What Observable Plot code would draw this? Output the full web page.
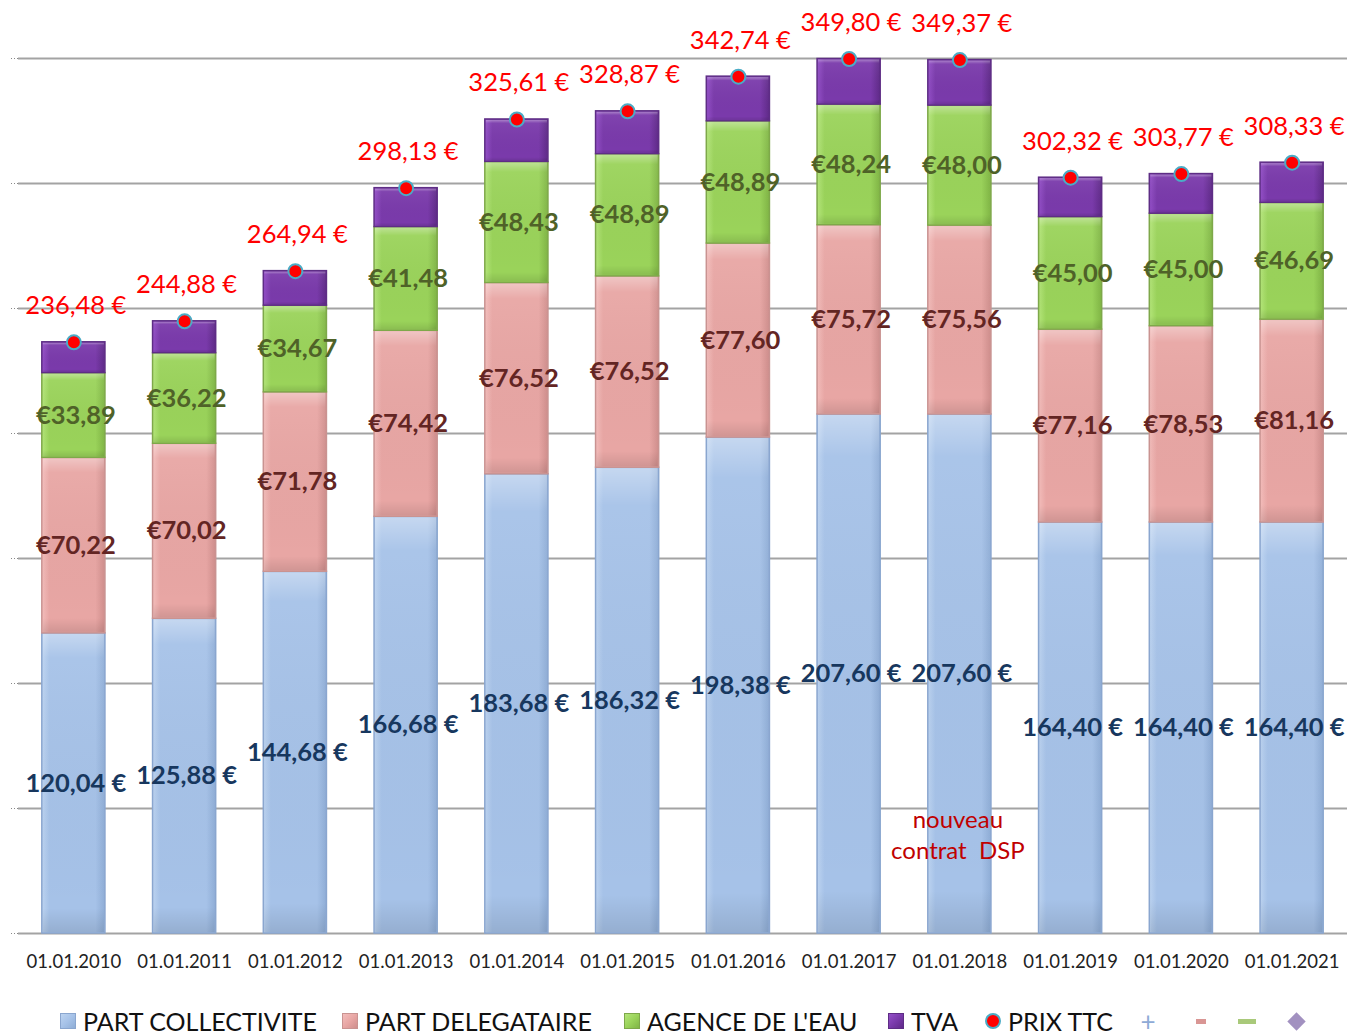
<!DOCTYPE html>
<html>
<head>
<meta charset="utf-8">
<script src="https://cdn.jsdelivr.net/npm/d3@7"></script>
<script src="https://cdn.jsdelivr.net/npm/@observablehq/plot@0.6"></script>
<style>
  body { margin: 0; background: #fff; font-family: Lato, "Open Sans", sans-serif; }
  #chart { width: 1363px; height: 985px; }
  .legend { display: flex; align-items: center; height: 40px; margin-top: 16px; padding-left: 60px; font-size: 25px; color: #111; }
  .legend .item { display: flex; align-items: center; white-space: nowrap; }
  .legend .sw { width: 16px; height: 16px; margin-right: 7px; box-sizing: border-box; flex: none; }
</style>
</head>
<body>
<div id="chart"></div>
<div class="legend" id="legend"></div>
<script>
// ---- Data ----
const dates = ["01.01.2010","01.01.2011","01.01.2012","01.01.2013","01.01.2014","01.01.2015","01.01.2016","01.01.2017","01.01.2018","01.01.2019","01.01.2020","01.01.2021"];
const partCollectivite = [120.04,125.88,144.68,166.68,183.68,186.32,198.38,207.60,207.60,164.40,164.40,164.40];
const partDelegataire  = [70.22,70.02,71.78,74.42,76.52,76.52,77.60,75.72,75.56,77.16,78.53,81.16];
const agenceEau        = [33.89,36.22,34.67,41.48,48.43,48.89,48.89,48.24,48.00,45.00,45.00,46.69];
const tva              = [12.33,12.76,13.81,15.55,16.98,17.14,17.87,18.24,18.21,15.76,15.84,16.08];
const prixTTC          = [236.48,244.88,264.94,298.13,325.61,328.87,342.74,349.80,349.37,302.32,303.77,308.33];
const seriesNames = ["PART COLLECTIVITE","PART DELEGATAIRE","AGENCE DE L'EAU","TVA"];
const gridTicks = [0,50,100,150,200,250,300,350];
const annotDates = ["01.01.2018"];
const annotTexts = ["nouveau\ncontrat  DSP"];
const annotValues = [40];

// ---- Build tables ----
const seriesArrays = [partCollectivite, partDelegataire, agenceEau, tva];
const long = [];
dates.forEach((d, i) => seriesNames.forEach((s, k) => long.push({date: d, series: s, value: seriesArrays[k][i]})));
const totals = dates.map((d, i) => ({date: d, value: prixTTC[i]}));
const annots = annotDates.map((d, i) => ({date: d, text: annotTexts[i], value: annotValues[i]}));

const fmt = v => v.toFixed(2).replace(".", ",");
const labelText = d => d.series === "TVA" ? "" : (d.series === "PART COLLECTIVITE" ? fmt(d.value) + " €" : "€" + fmt(d.value));
const labelColor = {"PART COLLECTIVITE": "#17375e", "PART DELEGATAIRE": "#632523", "AGENCE DE L'EAU": "#4f6228", "TVA": "#fff"};

const grads = [
  {id: "gBlue",   c: ["#bcd3f0", "#a6c2e8", "#8fadd6"], stroke: "#8aa6cf"},
  {id: "gPink",   c: ["#f3bdbb", "#e8a6a4", "#cf8e8c"], stroke: "#c99391"},
  {id: "gGreen",  c: ["#b4e57a", "#9ad35a", "#80b545"], stroke: "#7ea84a"},
  {id: "gPurple", c: ["#9450c8", "#7a3aab", "#5f2a88"], stroke: "#5e2d85"}
];

function defsMark() {
  const ns = "http://www.w3.org/2000/svg";
  const defs = document.createElementNS(ns, "defs");
  const mk = (id, vertical, stops) => {
    const lg = document.createElementNS(ns, "linearGradient");
    lg.setAttribute("id", id);
    lg.setAttribute("x1", "0"); lg.setAttribute("y1", "0");
    lg.setAttribute("x2", vertical ? "0" : "1"); lg.setAttribute("y2", vertical ? "1" : "0");
    stops.forEach(([o, c, op]) => {
      const st = document.createElementNS(ns, "stop");
      st.setAttribute("offset", o); st.setAttribute("stop-color", c);
      if (op !== undefined) st.setAttribute("stop-opacity", op);
      lg.appendChild(st);
    });
    defs.appendChild(lg);
  };
  grads.forEach(g => mk(g.id, false, [[0, g.c[0]], [0.12, g.c[1]], [0.85, g.c[1]], [1, g.c[2]]]));
  mk("gOverlay", true, [[0, "#ffffff", 0.35], [0.08, "#ffffff", 0.05], [0.92, "#000000", 0], [1, "#000000", 0.1]]);
  return defs;
}

const chart = Plot.plot({
  width: 1363,
  height: 985,
  marginLeft: 18,
  marginRight: 16,
  marginTop: 58,
  marginBottom: 52,
  style: {fontFamily: "Lato, 'Open Sans', sans-serif", background: "#fff"},
  x: {domain: dates, paddingInner: 0.43, paddingOuter: 0.215, round: false, label: null},
  y: {domain: [0, 350], label: null},
  color: {domain: seriesNames, range: grads.map(g => `url(#${g.id})`)},
  marks: [
    defsMark,
    Plot.ruleY(gridTicks, {stroke: "#a3a3a3", strokeWidth: 2}),
    Plot.axisY(gridTicks, {tickSize: 8, tickFormat: () => "", stroke: "#888", strokeDasharray: "1,2"}),
    Plot.axisX({tickSize: 0, tickPadding: 21, fontSize: 18.5, color: "#222", label: null}),
    Plot.barY(long, {x: "date", y: "value", fill: "series", stroke: d => grads[seriesNames.indexOf(d.series)].stroke, strokeWidth: 1.5, order: seriesNames}),
    Plot.barY(long, {x: "date", y: "value", z: "series", fill: "url(#gOverlay)", order: seriesNames, inset: 1}),
    Plot.text(long, Plot.stackY({x: "date", y: "value", z: "series", order: seriesNames, text: labelText, fill: d => labelColor[d.series], fontSize: 25.5, fontWeight: "bold", dx: 2})),
    Plot.dot(totals, {x: "date", y: "value", r: 7, fill: "#ff0000", stroke: "#4bacc6", strokeWidth: 2}),
    Plot.text(totals, {x: "date", y: "value", text: d => fmt(d.value) + " €", fill: "#ff0000", fontSize: 25.5, lineAnchor: "bottom", dy: -28, dx: 2}),
    Plot.text(annots, {x: "date", y: "value", text: "text", fill: "#c00000", fontSize: 24, lineHeight: 1.3, lineAnchor: "middle", dx: -2})
  ]
});
document.getElementById("chart").appendChild(chart);

// ---- Legend ----
const legend = document.getElementById("legend");
const itemWidths = [282, 282, 264, 97, 153];
seriesNames.forEach((s, k) => {
  const g = grads[k];
  const it = document.createElement("div"); it.className = "item";
  it.style.width = itemWidths[k] + "px";
  const sw = document.createElement("div"); sw.className = "sw";
  sw.style.background = `linear-gradient(135deg, ${g.c[0]}, ${g.c[1]} 50%, ${g.c[2]})`;
  sw.style.border = `1px solid ${g.stroke}`;
  it.appendChild(sw);
  it.appendChild(document.createTextNode(s));
  legend.appendChild(it);
});
{
  const it = document.createElement("div"); it.className = "item";
  it.style.width = itemWidths[4] + "px";
  const sw = document.createElement("div"); sw.className = "sw";
  sw.style.borderRadius = "50%"; sw.style.background = "#ff0000"; sw.style.border = "2px solid #4bacc6";
  it.appendChild(sw); it.appendChild(document.createTextNode("PRIX TTC"));
  legend.appendChild(it);
}
const extras = [
  {html: "+", style: "color:#8eaad6;font-size:26px;width:20px;margin-right:38px;line-height:normal;text-align:center"},
  {html: "", style: "width:10px;height:5px;background:#d99694;margin-right:32px"},
  {html: "", style: "width:18px;height:5px;background:#a9c97a;margin-right:34px"},
  {html: "", style: "width:13px;height:13px;background:#a291c0;transform:rotate(45deg)"}
];
extras.forEach(e => {
  const d = document.createElement("div");
  d.setAttribute("style", e.style);
  d.textContent = e.html;
  legend.appendChild(d);
});
</script>
</body>
</html>
